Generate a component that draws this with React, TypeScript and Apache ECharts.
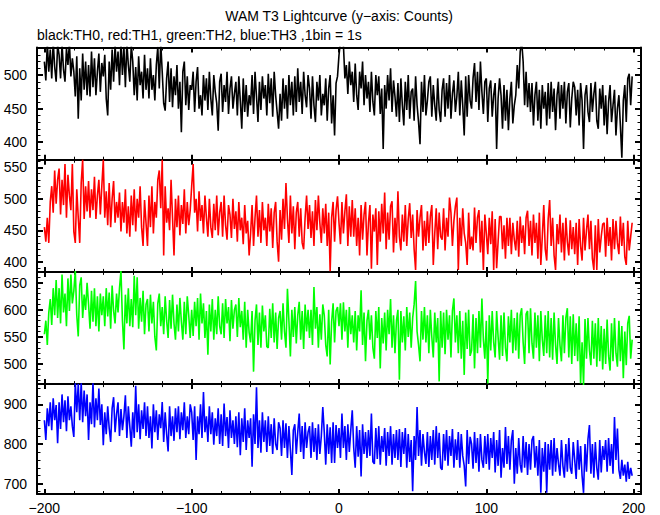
import React, { useEffect, useRef } from "react";
import * as echarts from "echarts";

// 1 bin = 1 s, first bin at t = -200
const binStart = -200;
const xMin = -205;
const xMax = 205;

const titleText = "WAM T3 Lightcurve (y\u2212axis: Counts)";
const subtitleText = "black:TH0, red:TH1, green:TH2, blue:TH3 ,1bin = 1s";

const xMajor = [-200, -100, 0, 100, 200];
const xMinor = [-180, -160, -140, -120, -80, -60, -40, -20, 20, 40, 60, 80, 120, 140, 160, 180];

// TH0 (black)
const th0 = [
  520, 492, 548, 505, 538, 495, 550, 512, 490, 545,
  530, 495, 546, 508, 490, 540, 515, 548, 498, 525,
  505, 468, 528, 435, 510, 462, 532, 478, 520, 470,
  515, 468, 535, 482, 525, 470, 505, 532, 475, 518,
  498, 530, 465, 440, 520, 478, 538, 490, 545, 505,
  535, 485, 550, 500, 542, 482, 548, 515, 490, 545,
  520, 470, 512, 462, 528, 485, 505, 465, 530, 478,
  510, 465, 525, 478, 500, 462, 515, 542, 480, 548,
  505, 458, 447, 495, 520, 460, 510, 452, 498, 470,
  515, 450, 490, 415, 505, 520, 455, 498, 448, 485,
  478, 505, 445, 490, 512, 450, 470, 440, 500, 462,
  495, 448, 505, 465, 440, 500, 475, 458, 417, 490,
  502, 445, 485, 460, 505, 442, 480, 498, 450, 472,
  490, 440, 498, 462, 420, 495, 445, 485, 438, 470,
  455, 500, 442, 505, 468, 430, 490, 448, 498, 465,
  485, 440, 502, 458, 495, 438, 505, 470, 445, 420,
  472, 432, 495, 450, 485, 435, 500, 455, 490, 440,
  498, 445, 510, 460, 490, 442, 505, 470, 452, 500,
  480, 435, 498, 455, 430, 490, 462, 500, 440, 472,
  455, 495, 432, 480, 500, 428, 470, 410, 488, 498,
  530, 550, 548, 545, 495, 515, 472, 520, 485, 505,
  460, 517, 470, 448, 505, 480, 520, 455, 500, 465,
  490, 445, 505, 460, 440, 500, 470, 498, 442, 480,
  390, 485, 450, 500, 462, 510, 445, 492, 468, 438,
  488, 430, 495, 455, 425, 490, 448, 500, 435, 475,
  480, 432, 498, 455, 430, 397, 490, 445, 500, 440,
  462, 490, 498, 438, 485, 455, 432, 495, 448, 430,
  478, 495, 438, 488, 450, 500, 435, 472, 492, 445,
  468, 505, 440, 492, 455, 410, 498, 438, 500, 462,
  450, 495, 518, 460, 505, 448, 520, 475, 442, 490,
  495, 430, 480, 492, 438, 470, 488, 390, 465, 495,
  470, 420, 485, 432, 478, 418, 465, 490, 428, 455,
  470, 515, 480, 535, 550, 520, 455, 505, 452, 488,
  445, 488, 425, 470, 490, 432, 478, 420, 485, 450,
  475, 425, 488, 435, 490, 445, 480, 418, 470, 490,
  435, 485, 450, 490, 428, 475, 488, 422, 465, 490,
  482, 440, 478, 425, 488, 462, 390, 470, 485, 445,
  430, 488, 445, 472, 490, 432, 420, 480, 450, 485,
  425, 470, 412, 460, 485, 430, 455, 478, 410, 450,
  470, 425, 377, 462, 485, 430, 495, 502, 455, 498,
];

// TH1 (red)
const th1 = [
  455, 432, 470, 430, 495, 520, 478, 545, 492, 530,
  548, 475, 530, 490, 555, 470, 538, 505, 482, 555,
  448, 430, 515, 470, 430, 525, 562, 468, 520, 480,
  528, 470, 515, 482, 535, 468, 505, 530, 475, 520,
  562, 470, 512, 458, 525, 455, 500, 528, 462, 495,
  470, 510, 448, 495, 462, 515, 445, 488, 440, 505,
  458, 515, 448, 500, 470, 520, 455, 425, 498, 462,
  425, 505, 455, 520, 445, 495, 470, 530, 545, 485,
  562, 410, 520, 462, 485, 450, 530, 470, 410, 500,
  455, 505, 442, 490, 460, 515, 445, 495, 458, 482,
  520, 555, 478, 500, 448, 512, 465, 490, 445, 505,
  470, 440, 500, 455, 438, 492, 450, 505, 442, 478,
  495, 440, 505, 458, 435, 490, 475, 438, 500, 452,
  480, 432, 495, 450, 470, 428, 490, 445, 465, 410,
  445, 490, 425, 470, 505, 440, 482, 430, 495, 450,
  470, 425, 492, 448, 485, 422, 478, 495, 432, 400,
  482, 435, 500, 452, 525, 468, 430, 505, 445, 488,
  420, 478, 495, 440, 485, 430, 420, 470, 505, 452,
  490, 438, 480, 425, 498, 450, 505, 462, 430, 485,
  445, 492, 425, 478, 385, 470, 495, 432, 482, 504,
  462, 428, 495, 445, 480, 507, 425, 488, 440, 498,
  440, 485, 425, 470, 410, 490, 435, 475, 495, 410,
  462, 490, 389, 475, 448, 485, 395, 480, 432, 492,
  445, 510, 420, 478, 435, 488, 496, 415, 470, 430,
  512, 440, 418, 475, 432, 490, 425, 468, 493, 438,
  475, 420, 387, 482, 440, 470, 490, 418, 465, 425,
  480, 430, 472, 490, 395, 445, 485, 420, 478, 440,
  435, 485, 418, 470, 440, 502, 478, 425, 465, 488,
  502, 387, 470, 425, 485, 445, 430, 395, 478, 420,
  440, 418, 486, 430, 470, 482, 415, 465, 387, 475,
  445, 412, 470, 428, 480, 387, 468, 390, 432, 472,
  472, 420, 458, 405, 470, 425, 470, 412, 462, 435,
  418, 465, 408, 472, 430, 458, 412, 470, 481, 425,
  465, 410, 475, 430, 462, 405, 478, 395, 440, 490,
  420, 402, 468, 498, 425, 470, 410, 387, 460, 428,
  475, 415, 462, 402, 470, 432, 410, 466, 420, 455,
  412, 462, 395, 468, 425, 402, 470, 418, 450, 475,
  420, 465, 405, 387, 458, 387, 468, 415, 440, 460,
  462, 408, 470, 425, 455, 402, 468, 420, 465, 430,
  412, 472, 425, 462, 408, 395, 465, 418, 440, 462,
];

// TH2 (green)
const th2 = [
  555, 580, 535, 595, 620, 572, 640, 590, 655, 585,
  640, 575, 665, 595, 630, 570, 658, 598, 665, 612,
  635, 672, 590, 551, 645, 660, 585, 628, 600, 650,
  610, 565, 635, 578, 640, 570, 625, 560, 630, 590,
  625, 570, 640, 588, 632, 565, 645, 598, 575, 630,
  595, 640, 672, 580, 527, 628, 575, 640, 570, 620,
  568, 663, 590, 660, 565, 622, 578, 635, 555, 610,
  620, 560, 628, 575, 615, 550, 525, 612, 630, 570,
  605, 555, 625, 580, 548, 618, 565, 628, 575, 545,
  610, 560, 622, 578, 545, 615, 555, 625, 590, 548,
  600, 552, 615, 570, 622, 545, 630, 575, 612, 548,
  598, 517, 610, 560, 620, 545, 600, 555, 625, 570,
  555, 612, 548, 620, 575, 605, 542, 618, 565, 600,
  610, 550, 622, 568, 598, 545, 615, 530, 600, 558,
  540, 598, 486, 580, 610, 535, 595, 530, 608, 560,
  590, 532, 530, 602, 548, 612, 540, 595, 528, 585,
  598, 545, 612, 560, 530, 639, 580, 514, 600, 550,
  605, 538, 590, 615, 545, 598, 528, 610, 560, 600,
  548, 600, 535, 642, 565, 605, 530, 592, 545, 610,
  590, 535, 514, 600, 499, 578, 612, 540, 598, 605,
  570, 612, 545, 614, 560, 600, 530, 605, 555, 590,
  540, 598, 525, 590, 560, 636, 535, 595, 505, 580,
  600, 545, 590, 530, 510, 598, 548, 605, 492, 585,
  538, 595, 525, 600, 555, 620, 530, 590, 520, 580,
  600, 471, 598, 540, 588, 525, 605, 550, 595, 530,
  585, 610, 653, 560, 535, 505, 598, 545, 605, 540,
  590, 520, 600, 550, 512, 595, 540, 585, 468, 598,
  530, 595, 518, 600, 545, 590, 512, 598, 621, 540,
  590, 520, 598, 510, 580, 480, 595, 528, 600, 515,
  525, 592, 492, 585, 520, 598, 530, 621, 545, 510,
  580, 464, 590, 525, 598, 540, 512, 598, 550, 508,
  590, 515, 595, 530, 505, 588, 540, 600, 520, 585,
  525, 595, 510, 590, 603, 540, 500, 592, 598, 520,
  603, 538, 510, 595, 530, 590, 505, 598, 545, 515,
  590, 520, 598, 512, 585, 508, 595, 535, 500, 585,
  535, 505, 590, 520, 585, 603, 512, 588, 500, 592,
  515, 575, 505, 588, 464, 540, 460, 583, 510, 585,
  525, 498, 580, 510, 575, 495, 585, 505, 570, 490,
  565, 500, 582, 515, 488, 575, 505, 585, 520, 495,
  580, 505, 570, 474, 560, 498, 575, 589, 510, 545,
];

// TH3 (blue)
const th3 = [
  860, 810, 890, 845, 905, 835, 915, 860, 898, 802,
  905, 838, 925, 855, 910, 832, 920, 860, 895, 845,
  818, 955, 880, 952, 860, 955, 855, 935, 870, 925,
  810, 905, 850, 955, 842, 915, 860, 940, 848, 900,
  797, 880, 825, 895, 840, 805, 890, 918, 830, 875,
  905, 820, 888, 835, 870, 923, 815, 895, 845, 793,
  880, 815, 947, 830, 900, 812, 885, 838, 905, 820,
  895, 815, 870, 789, 900, 830, 885, 810, 875, 840,
  906, 805, 880, 825, 781, 895, 820, 870, 808, 890,
  830, 895, 812, 880, 835, 905, 815, 870, 825, 900,
  880, 810, 895, 760, 870, 825, 900, 815, 931, 830,
  870, 805, 895, 825, 880, 798, 865, 820, 890, 800,
  875, 795, 902, 820, 868, 790, 885, 815, 860, 800,
  870, 792, 880, 772, 865, 805, 890, 785, 860, 815,
  865, 743, 875, 800, 943, 790, 860, 778, 880, 805,
  860, 780, 870, 795, 850, 775, 865, 800, 785, 855,
  840, 770, 860, 790, 852, 765, 845, 785, 722, 835,
  850, 775, 830, 877, 780, 845, 762, 855, 790, 830,
  845, 765, 855, 780, 840, 760, 850, 775, 820, 893,
  830, 748, 850, 775, 842, 752, 855, 752, 848, 790,
  840, 765, 877, 790, 845, 760, 850, 780, 835, 885,
  790, 740, 845, 768, 835, 718, 850, 775, 830, 765,
  835, 770, 877, 755, 750, 840, 762, 845, 748, 820,
  780, 840, 745, 830, 770, 845, 748, 825, 765, 835,
  760, 838, 742, 830, 775, 840, 740, 825, 755, 810,
  681, 820, 760, 893, 770, 835, 745, 825, 780, 750,
  830, 742, 820, 760, 835, 748, 845, 765, 828, 740,
  735, 825, 758, 835, 745, 820, 770, 838, 740, 812,
  760, 830, 740, 825, 770, 745, 693, 835, 750, 818,
  800, 738, 830, 752, 815, 730, 825, 760, 740, 820,
  750, 825, 735, 815, 765, 830, 728, 810, 745, 835,
  715, 790, 740, 843, 750, 820, 735, 810, 835, 700,
  790, 725, 815, 748, 728, 820, 740, 805, 722, 800,
  735, 810, 820, 740, 795, 720, 810, 677, 790, 730,
  805, 677, 800, 735, 810, 720, 815, 730, 790, 750,
  720, 810, 745, 715, 800, 730, 815, 740, 725, 805,
  760, 712, 810, 735, 795, 720, 677, 800, 730, 812,
  848, 725, 800, 715, 805, 740, 710, 810, 728, 795,
  760, 810, 730, 815, 745, 800, 725, 868, 760, 839,
  735, 712, 760, 720, 748, 705, 755, 712, 740, 720,
];

// y-axis ranges and ticks of the four panels
const yMin = [374, 384, 463, 674];
const yMax = [541, 562, 670, 951];
const yMajor0 = [400, 450, 500];
const yMinor0 = [380, 390, 410, 420, 430, 440, 460, 470, 480, 490, 510, 520, 530, 540];
const yMajor1 = [400, 450, 500, 550];
const yMinor1 = [390, 410, 420, 430, 440, 460, 470, 480, 490, 510, 520, 530, 540, 560];
const yMajor2 = [500, 550, 600, 650];
const yMinor2 = [470, 480, 490, 510, 520, 530, 540, 560, 570, 580, 590, 610, 620, 630, 640, 660];
const yMajor3 = [700, 800, 900];
const yMinor3 = [680, 720, 740, 760, 780, 820, 840, 860, 880, 920, 940];

const seriesValues = [th0, th1, th2, th3];
const seriesNames = ["TH0", "TH1", "TH2", "TH3"];
const seriesColors = ["#000000", "#ff0000", "#00ff00", "#0000ff"];
const yMajors = [yMajor0, yMajor1, yMajor2, yMajor3];
const yMinors = [yMinor0, yMinor1, yMinor2, yMinor3];

const FONT = "Liberation Sans, Arial, Helvetica, sans-serif";

const fmtNum = (v: number) => (v < 0 ? "\u2212" + Math.abs(v) : String(v));

export default function App() {
  const ref = useRef<HTMLDivElement>(null);
  useEffect(() => {
    document.body.style.margin = "0";
    if (!ref.current) return;
    const chart = echarts.init(ref.current, null, { renderer: "svg" });

    const gridLeft = 37;
    const gridWidth = 604;
    const gridTop0 = 47.5;
    const gridH = 112.2;

    const grids: any[] = [];
    const xAxes: any[] = [];
    const yAxes: any[] = [];
    const series: any[] = [];

    for (let i = 0; i < 4; i++) {
      grids.push({ left: gridLeft, width: gridWidth, top: gridTop0 + i * gridH, height: gridH, containLabel: false });
      const last = i === 3;
      const xa = (position: string, ticks: number[], len: number, w: number, line: boolean, labels: boolean) => ({
        type: "value",
        gridIndex: i,
        position,
        min: xMin,
        max: xMax,
        axisLine: { show: line, onZero: false, lineStyle: { color: "#000", width: 2 } },
        axisTick: { show: true, inside: true, length: len, customValues: ticks, lineStyle: { color: "#000", width: w } },
        axisLabel: {
          show: labels,
          customValues: xMajor,
          formatter: fmtNum,
          margin: 7,
          fontSize: 14,
          fontFamily: FONT,
          color: "#000",
        },
        splitLine: { show: false },
      });
      xAxes.push(xa("bottom", xMajor, 5, 2, true, last));
      xAxes.push(xa("bottom", xMinor, 3, 1, false, false));
      xAxes.push(xa("top", xMajor, 5, 2, true, false));
      xAxes.push(xa("top", xMinor, 3, 1, false, false));

      const ya = (position: string, ticks: number[], len: number, w: number, line: boolean, labels: boolean) => ({
        type: "value",
        gridIndex: i,
        position,
        min: yMin[i],
        max: yMax[i],
        axisLine: { show: line, onZero: false, lineStyle: { color: "#000", width: 2 } },
        axisTick: { show: true, inside: true, length: len, customValues: ticks, lineStyle: { color: "#000", width: w } },
        axisLabel: {
          show: labels,
          customValues: yMajors[i],
          margin: 10,
          fontSize: 14,
          fontFamily: FONT,
          color: "#000",
        },
        splitLine: { show: false },
      });
      yAxes.push(ya("left", yMajors[i], 6, 2, true, true));
      yAxes.push(ya("left", yMinors[i], 3.5, 1, false, false));
      yAxes.push(ya("right", yMajors[i], 6, 2, true, false));
      yAxes.push(ya("right", yMinors[i], 3.5, 1, false, false));

      series.push({
        type: "line",
        name: seriesNames[i],
        xAxisIndex: i * 4,
        yAxisIndex: i * 4,
        data: seriesValues[i].map((v, k) => [binStart + k, v]),
        showSymbol: false,
        symbol: "none",
        lineStyle: { color: seriesColors[i], width: 1.6 },
        itemStyle: { color: seriesColors[i] },
        clip: true,
        z: 1,
      });
    }

    chart.setOption({
      animation: false,
      backgroundColor: "#ffffff",
      title: [
        {
          text: titleText,
          left: 339,
          top: 9,
          textAlign: "center",
          padding: 0,
          textStyle: { fontSize: 14, fontWeight: "normal", fontFamily: FONT, color: "#000" },
        },
        {
          text: subtitleText,
          left: 37,
          top: 28,
          padding: 0,
          textStyle: { fontSize: 14, fontWeight: "normal", fontFamily: FONT, color: "#000" },
        },
      ],
      grid: grids,
      xAxis: xAxes,
      yAxis: yAxes,
      series,
    });
    return () => chart.dispose();
  }, []);
  return <div ref={ref} style={{ width: 660, height: 515 }} />;
}
